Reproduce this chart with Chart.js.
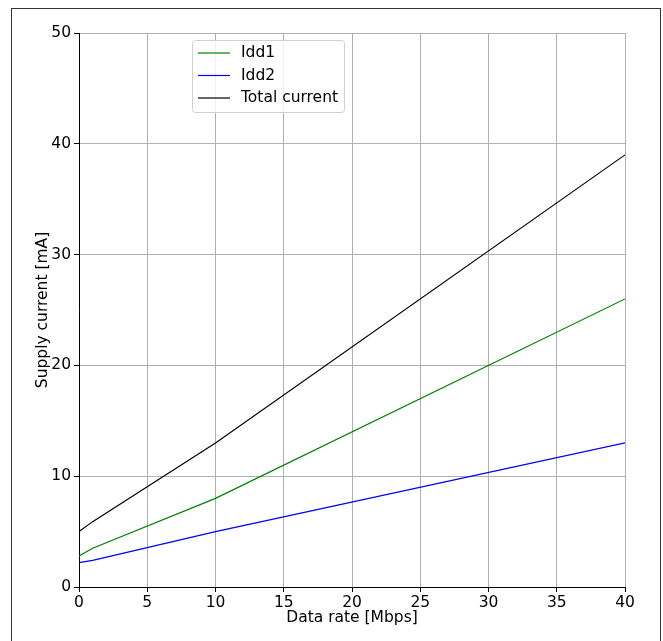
<!DOCTYPE html>
<html>
<head>
<meta charset="utf-8">
<script src="https://cdn.jsdelivr.net/npm/chart.js@4/dist/chart.umd.min.js"></script>
<style>
    html, body { margin: 0; padding: 0; background: #fff; }
    #wrap { position: relative; width: 663px; height: 641px; }
    #frame { position: absolute; left: 11px; top: 8px; width: 648px; height: 640px; border: 1px solid #333; pointer-events: none; }
</style>
</head>
<body>
<div id="wrap">
    <canvas id="supplyChart" width="663" height="641"></canvas>
    <div id="frame"></div>
</div>
<script>
"use strict";

// data
var dataRate = [0, 1, 10, 40];
var idd1 = [2.8, 3.5, 8, 26];
var idd2 = [2.2, 2.4, 5, 13];
var totalCurrent = [5, 5.9, 13, 39];
var seriesNames = ["Idd1", "Idd2", "Total current"];
var seriesColors = ["#008000", "#0000ff", "#000000"];

var FONT = "'DejaVu Sans', sans-serif";
var FS = 15.5;

function toPoints(ys) {
    return dataRate.map(function(x, i) { return { x: x, y: ys[i] }; });
}

// legend box drawn inside the plot, like matplotlib's legend
var boxLegend = {
    id: "boxLegend",
    afterDraw: function(chart) {
        var ctx = chart.ctx;
        var left = 192, top = 40, w = 152, h = 72;
        ctx.save();
        ctx.fillStyle = "rgba(255,255,255,0.8)";
        ctx.strokeStyle = "#d0d0d0";
        ctx.lineWidth = 1;
        ctx.beginPath();
        ctx.roundRect(left + 0.5, top + 0.5, w, h, 3);
        ctx.fill();
        ctx.stroke();
        ctx.font = FS + "px " + FONT;
        ctx.textBaseline = "middle";
        chart.data.datasets.forEach(function(ds, i) {
            var y = top + 13 + i * 22.5;
            ctx.strokeStyle = ds.borderColor;
            ctx.lineWidth = 1.2;
            ctx.beginPath();
            ctx.moveTo(left + 6, y);
            ctx.lineTo(left + 38, y);
            ctx.stroke();
            ctx.fillStyle = "#000";
            ctx.fillText(ds.label, left + 49, y);
        });
        ctx.restore();
    }
};

var ctx = document.getElementById("supplyChart");

new Chart(ctx, {
    type: "line",
    data: {
        datasets: [idd1, idd2, totalCurrent].map(function(ys, i) {
            return {
                label: seriesNames[i],
                data: toPoints(ys),
                borderColor: seriesColors[i],
                backgroundColor: seriesColors[i],
                borderWidth: 1.2,
                pointRadius: 0,
                tension: 0
            };
        })
    },
    options: {
        responsive: false,
        animation: false,
        layout: { padding: { top: 33, right: 38, left: 34, bottom: 14 } },
        plugins: {
            legend: { display: false },
            tooltip: { enabled: false }
        },
        scales: {
            x: {
                type: "linear",
                min: 0,
                max: 40,
                afterFit: function(scale) { scale.height = 40; },
                ticks: { stepSize: 5, color: "#000", font: { size: FS, family: FONT }, padding: 2 },
                grid: { color: "#b0b0b0", tickColor: "#000", tickLength: 5 },
                border: { color: "#000", width: 1 },
                title: { display: true, text: "Data rate [Mbps]", color: "#000", font: { size: FS, family: FONT }, padding: { top: 0, bottom: 0 } }
            },
            y: {
                min: 0,
                max: 50,
                afterFit: function(scale) { scale.width = 45; },
                ticks: { stepSize: 10, color: "#000", font: { size: FS, family: FONT }, padding: 3 },
                grid: { color: "#b0b0b0", tickColor: "#000", tickLength: 5 },
                border: { color: "#000", width: 1 },
                title: { display: true, text: "Supply current [mA]", color: "#000", font: { size: FS, family: FONT }, padding: { top: 0, bottom: 0 } }
            }
        }
    },
    plugins: [boxLegend]
});
</script>
</body>
</html>
